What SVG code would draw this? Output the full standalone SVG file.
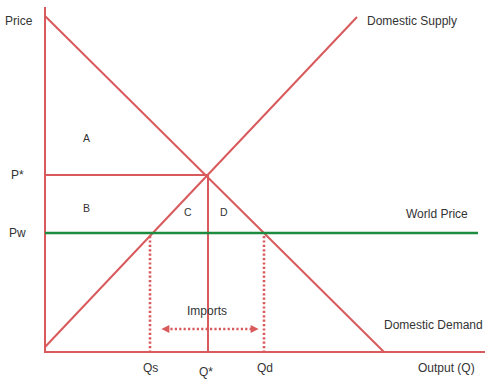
<svg xmlns="http://www.w3.org/2000/svg" width="485" height="381" viewBox="0 0 485 381">
<style>
.ln{stroke:#d95a5c;stroke-width:2;fill:none}
.dot{stroke:#d95a5c;stroke-width:2.6;fill:none;stroke-dasharray:2.2 2.2}
.t{font-family:"Liberation Sans",Arial,sans-serif;font-size:12px;fill:#333}
.s{font-size:10.5px}
</style>
<defs>
<marker id="ah" viewBox="0 0 10 10" refX="8" refY="5" markerWidth="9" markerHeight="8" orient="auto-start-reverse" markerUnits="userSpaceOnUse">
<path d="M0,0L10,5L0,10z" fill="#d95a5c"/>
</marker>
</defs>
<rect width="485" height="381" fill="#fff"/>
<g id="connectors">
<line class="ln" x1="45" y1="7" x2="45" y2="353"/>
<line class="ln" x1="45" y1="352" x2="485" y2="352"/>
<line id="demand" class="ln" x1="45" y1="16" x2="384" y2="352"/>
<line id="supply" class="ln" x1="45" y1="347" x2="357" y2="17"/>
<line class="ln" x1="45" y1="175" x2="208" y2="175"/>
<line class="ln" x1="208" y1="175" x2="208" y2="352"/>
<line id="world" x1="45" y1="233" x2="478" y2="233" stroke="#1e8c3e" stroke-width="2.5"/>
<line class="dot" x1="150" y1="236" x2="150" y2="351"/>
<line class="dot" x1="264" y1="236" x2="264" y2="351"/>
<line class="dot" x1="166" y1="329" x2="254" y2="329"/>
<line x1="163" y1="329" x2="257" y2="329" stroke="none" stroke-width="1" marker-start="url(#ah)" marker-end="url(#ah)"/>
</g>
<g id="labels">
<text class="t" x="5" y="25">Price</text>
<text class="t" x="11" y="179">P*</text>
<text class="t" x="9" y="237">Pw</text>
<text class="t s" x="83" y="142">A</text>
<text class="t s" x="83" y="212">B</text>
<text class="t s" x="184" y="216">C</text>
<text class="t s" x="220" y="216">D</text>
<text class="t" x="367" y="25">Domestic Supply</text>
<text class="t" x="406" y="218">World Price</text>
<text class="t" x="384" y="329">Domestic Demand</text>
<text class="t" x="418" y="372">Output (Q)</text>
<text class="t" x="187" y="315">Imports</text>
<text class="t" x="143" y="372">Qs</text>
<text class="t" x="199" y="376">Q*</text>
<text class="t" x="257" y="372">Qd</text>
</g>
</svg>
